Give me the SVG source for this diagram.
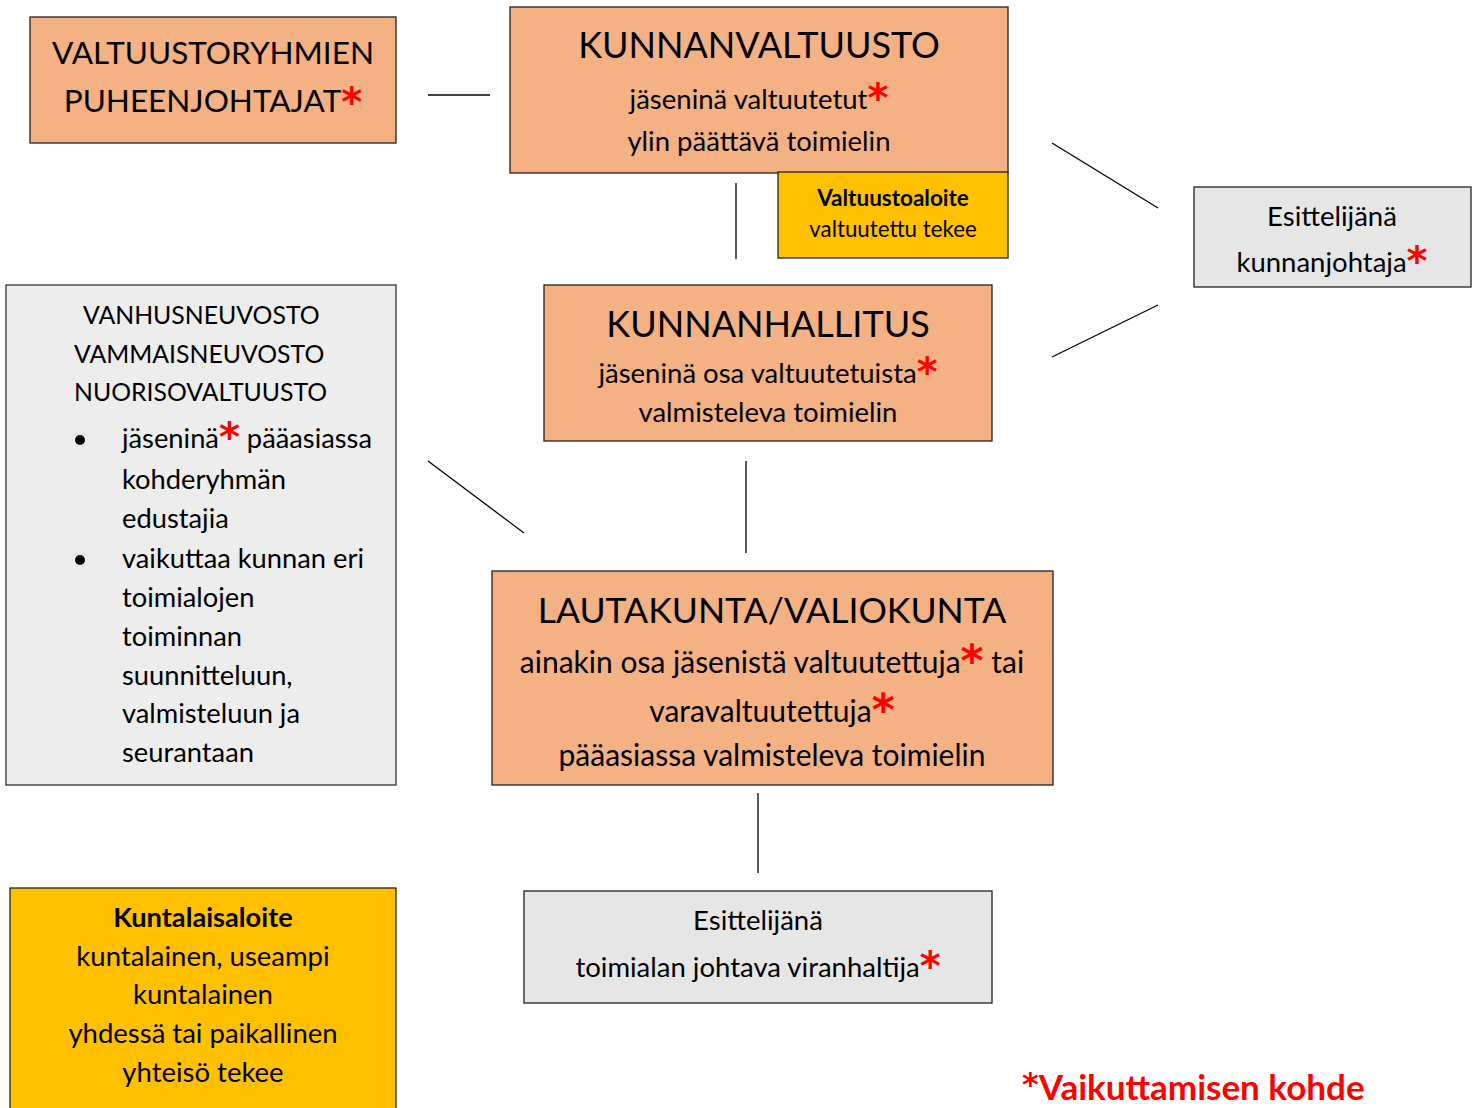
<svg xmlns="http://www.w3.org/2000/svg" width="1477" height="1108" viewBox="0 0 1477 1108">
<style>
text{font-family:Lato,"Liberation Sans",sans-serif;fill:#000}
.org{fill:#F4B183;stroke:#222;stroke-width:1.3}
.yel{fill:#FFC000;stroke:#222;stroke-width:1.3}
.gry{fill:#E7E6E6;stroke:#222;stroke-width:1.3}
.gry2{fill:#EDEDED;stroke:#333;stroke-width:1.3}
.c{text-anchor:middle}
.s{fill:#FF0000;font-weight:bold;font-family:"DejaVu Sans",sans-serif;font-size:40px}
.s2{fill:#FF0000;font-weight:bold;font-family:"DejaVu Sans",sans-serif;font-size:44px}
.ln{stroke:#000;stroke-width:1.3;fill:none}
</style>
<rect width="1477" height="1108" fill="#fff"/>
<g id="connectors">
<line class="ln" x1="428" y1="95" x2="490" y2="95"/>
<line class="ln" x1="736" y1="183" x2="736" y2="259"/>
<line class="ln" x1="1052" y1="143" x2="1158" y2="208"/>
<line class="ln" x1="1052" y1="357" x2="1158" y2="305"/>
<line class="ln" x1="746" y1="461" x2="746" y2="553"/>
<line class="ln" x1="428" y1="461" x2="524" y2="533"/>
<line class="ln" x1="758" y1="793" x2="758" y2="873"/>
</g>
<g id="valtuustoryhmien">
<rect class="org" x="30" y="17" width="366" height="126"/>
<text class="c" x="213" y="64" font-size="31.5">VALTUUSTORYHMIEN</text>
<text class="c" x="213" y="112" font-size="31.5">PUHEENJOHTAJAT<tspan class="s" dy="4">*</tspan></text>
</g>
<g id="kunnanvaltuusto">
<rect class="org" x="510" y="7" width="498" height="166"/>
<text class="c" x="759" y="58" font-size="36">KUNNANVALTUUSTO</text>
<text class="c" x="759" y="109" font-size="27.5">jäseninä valtuutetut<tspan class="s" dy="3">*</tspan></text>
<text class="c" x="759" y="151" font-size="27.5">ylin päättävä toimielin</text>
</g>
<g id="valtuustoaloite">
<rect class="yel" x="778" y="172" width="230" height="86"/>
<text class="c" x="893" y="206" font-size="22.5" font-weight="bold">Valtuustoaloite</text>
<text class="c" x="893" y="237" font-size="22.3">valtuutettu tekee</text>
</g>
<g id="esittelija-kunnanjohtaja">
<rect class="gry" x="1194" y="187" width="277" height="100"/>
<text class="c" x="1332" y="226" font-size="27.5">Esittelijänä</text>
<text class="c" x="1332" y="272" font-size="27.5">kunnanjohtaja<tspan class="s" dy="3">*</tspan></text>
</g>
<g id="kunnanhallitus">
<rect class="org" x="544" y="285" width="448" height="156"/>
<text class="c" x="768" y="337" font-size="36">KUNNANHALLITUS</text>
<text class="c" x="768" y="383" font-size="27.5">jäseninä osa valtuutetuista<tspan class="s" dy="3">*</tspan></text>
<text class="c" x="768" y="422" font-size="27.5">valmisteleva toimielin</text>
</g>
<g id="neuvostot">
<rect class="gry2" x="6" y="285" width="390" height="500"/>
<g font-size="27.3">
<text x="83" y="324" font-size="24.8">VANHUSNEUVOSTO</text>
<text x="74" y="363" font-size="24.8">VAMMAISNEUVOSTO</text>
<text x="74" y="401" font-size="24.8">NUORISOVALTUUSTO</text>
<circle cx="80" cy="440" r="5"/>
<text x="122" y="448">jäseninä<tspan class="s" dy="3">*</tspan><tspan dy="-3"> pääasiassa</tspan></text>
<text x="122" y="489">kohderyhmän</text>
<text x="122" y="528">edustajia</text>
<circle cx="80" cy="560" r="5"/>
<text x="122" y="568">vaikuttaa kunnan eri</text>
<text x="122" y="607">toimialojen</text>
<text x="122" y="646">toiminnan</text>
<text x="122" y="685">suunnitteluun,</text>
<text x="122" y="723">valmisteluun ja</text>
<text x="122" y="762">seurantaan</text>
</g>
</g>
<g id="lautakunta">
<rect class="org" x="492" y="571" width="561" height="214"/>
<text class="c" x="772" y="623" font-size="35.6">LAUTAKUNTA/VALIOKUNTA</text>
<text class="c" x="772" y="673" font-size="30">ainakin osa jäsenistä valtuutettuja<tspan class="s2" dy="3">*</tspan><tspan dy="-3"> tai</tspan></text>
<text class="c" x="772" y="722" font-size="30">varavaltuutettuja<tspan class="s2" dy="3">*</tspan></text>
<text class="c" x="772" y="766" font-size="30">pääasiassa valmisteleva toimielin</text>
</g>
<g id="esittelija-viranhaltija">
<rect class="gry" x="524" y="891" width="468" height="112"/>
<text class="c" x="758" y="930" font-size="27.5">Esittelijänä</text>
<text class="c" x="758" y="977" font-size="27.5">toimialan johtava viranhaltija<tspan class="s" dy="3">*</tspan></text>
</g>
<g id="kuntalaisaloite">
<rect class="yel" x="10" y="888" width="386" height="230"/>
<text class="c" x="203" y="927" font-size="27.2" font-weight="bold">Kuntalaisaloite</text>
<text class="c" x="203" y="966" font-size="27.5">kuntalainen, useampi</text>
<text class="c" x="203" y="1004" font-size="27.5">kuntalainen</text>
<text class="c" x="203" y="1043" font-size="27.5">yhdessä tai paikallinen</text>
<text class="c" x="203" y="1082" font-size="27.5">yhteisö tekee</text>
</g>
<g id="legend">
<text x="1022" y="1100" font-size="35" font-weight="bold" style="fill:#FF0000"><tspan font-family="DejaVu Sans, sans-serif" font-size="32" dy="-5">*</tspan><tspan dy="5">Vaikuttamisen kohde</tspan></text>
</g>
</svg>
